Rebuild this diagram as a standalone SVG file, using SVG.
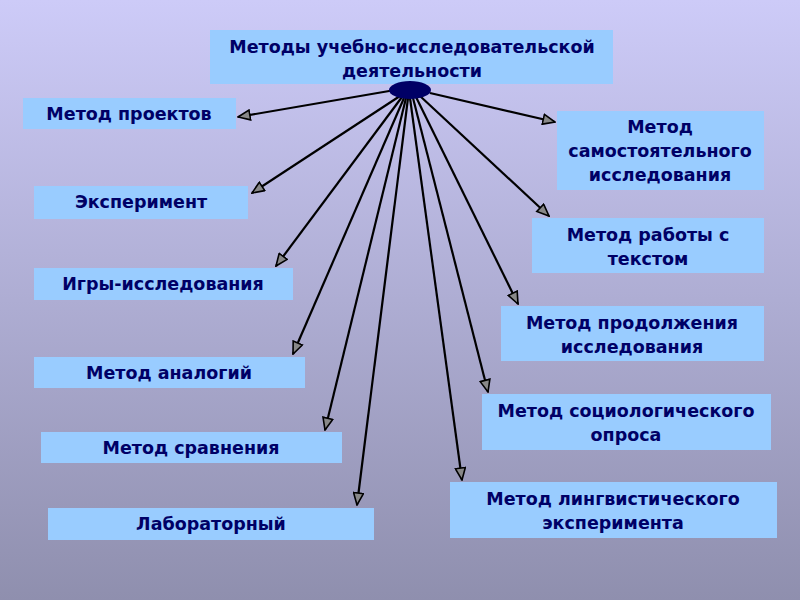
<svg xmlns="http://www.w3.org/2000/svg" width="800" height="600" viewBox="0 0 800 600">
<defs>
<linearGradient id="bg" x1="0" y1="0" x2="0" y2="1">
<stop offset="0" stop-color="#cdcbf8"/>
<stop offset="1" stop-color="#8f8fae"/>
</linearGradient>
<marker id="ah" viewBox="0 0 14 12" refX="13" refY="6" markerWidth="14" markerHeight="12" markerUnits="userSpaceOnUse" orient="auto">
<path d="M1,1 L13,6 L1,11 Z" fill="#888" stroke="#000" stroke-width="1.6" stroke-linejoin="miter"/>
</marker>
<style>
.box{fill:#99ccff;}
.t{font-family:"DejaVu Sans",Verdana,sans-serif;font-weight:bold;font-size:17.5px;fill:#000066;text-anchor:middle;}
.c line{stroke:#000;stroke-width:2.2;marker-end:url(#ah);}
</style>
</defs>
<rect width="800" height="600" fill="url(#bg)"/>
<g class="c" id="connectors">
<line x1="395" y1="90" x2="238" y2="117"/>
<line x1="400" y1="96" x2="252" y2="193"/>
<line x1="402" y1="97" x2="276" y2="266"/>
<line x1="404" y1="98" x2="293" y2="354"/>
<line x1="406" y1="98" x2="325" y2="430"/>
<line x1="408" y1="98" x2="357" y2="505"/>
<line x1="430" y1="93" x2="555" y2="122"/>
<line x1="420" y1="96" x2="549" y2="216"/>
<line x1="416" y1="97" x2="518" y2="304"/>
<line x1="413" y1="98" x2="488" y2="392"/>
<line x1="410" y1="98" x2="462" y2="480"/>
</g>
<g id="root">
<rect class="box" x="210" y="30" width="403" height="54"/>
<text class="t" x="412" y="53">Методы учебно-исследовательской</text>
<text class="t" x="412" y="77">деятельности</text>
<ellipse cx="410" cy="90" rx="21" ry="9" fill="#000066"/>
</g>
<g id="n1"><rect class="box" x="23" y="98" width="213" height="31"/><text class="t" x="129" y="120">Метод проектов</text></g>
<g id="n2"><rect class="box" x="34" y="186" width="214" height="33"/><text class="t" x="141" y="208">Эксперимент</text></g>
<g id="n3"><rect class="box" x="34" y="268" width="259" height="32"/><text class="t" x="163" y="290">Игры-исследования</text></g>
<g id="n4"><rect class="box" x="34" y="357" width="271" height="31"/><text class="t" x="169" y="379">Метод аналогий</text></g>
<g id="n5"><rect class="box" x="41" y="432" width="301" height="31"/><text class="t" x="191" y="454">Метод сравнения</text></g>
<g id="n6"><rect class="box" x="48" y="508" width="326" height="32"/><text class="t" x="211" y="530">Лабораторный</text></g>
<g id="n7"><rect class="box" x="557" y="111" width="207" height="79"/><text class="t" x="660" y="133">Метод</text><text class="t" x="660" y="157">самостоятельного</text><text class="t" x="660" y="181">исследования</text></g>
<g id="n8"><rect class="box" x="532" y="218" width="232" height="55"/><text class="t" x="648" y="241">Метод работы с</text><text class="t" x="648" y="265">текстом</text></g>
<g id="n9"><rect class="box" x="501" y="306" width="263" height="55"/><text class="t" x="632" y="329">Метод продолжения</text><text class="t" x="632" y="353">исследования</text></g>
<g id="n10"><rect class="box" x="482" y="394" width="289" height="56"/><text class="t" x="626" y="417">Метод социологического</text><text class="t" x="626" y="441">опроса</text></g>
<g id="n11"><rect class="box" x="450" y="482" width="327" height="56"/><text class="t" x="613" y="505">Метод лингвистического</text><text class="t" x="613" y="529">эксперимента</text></g>
</svg>
